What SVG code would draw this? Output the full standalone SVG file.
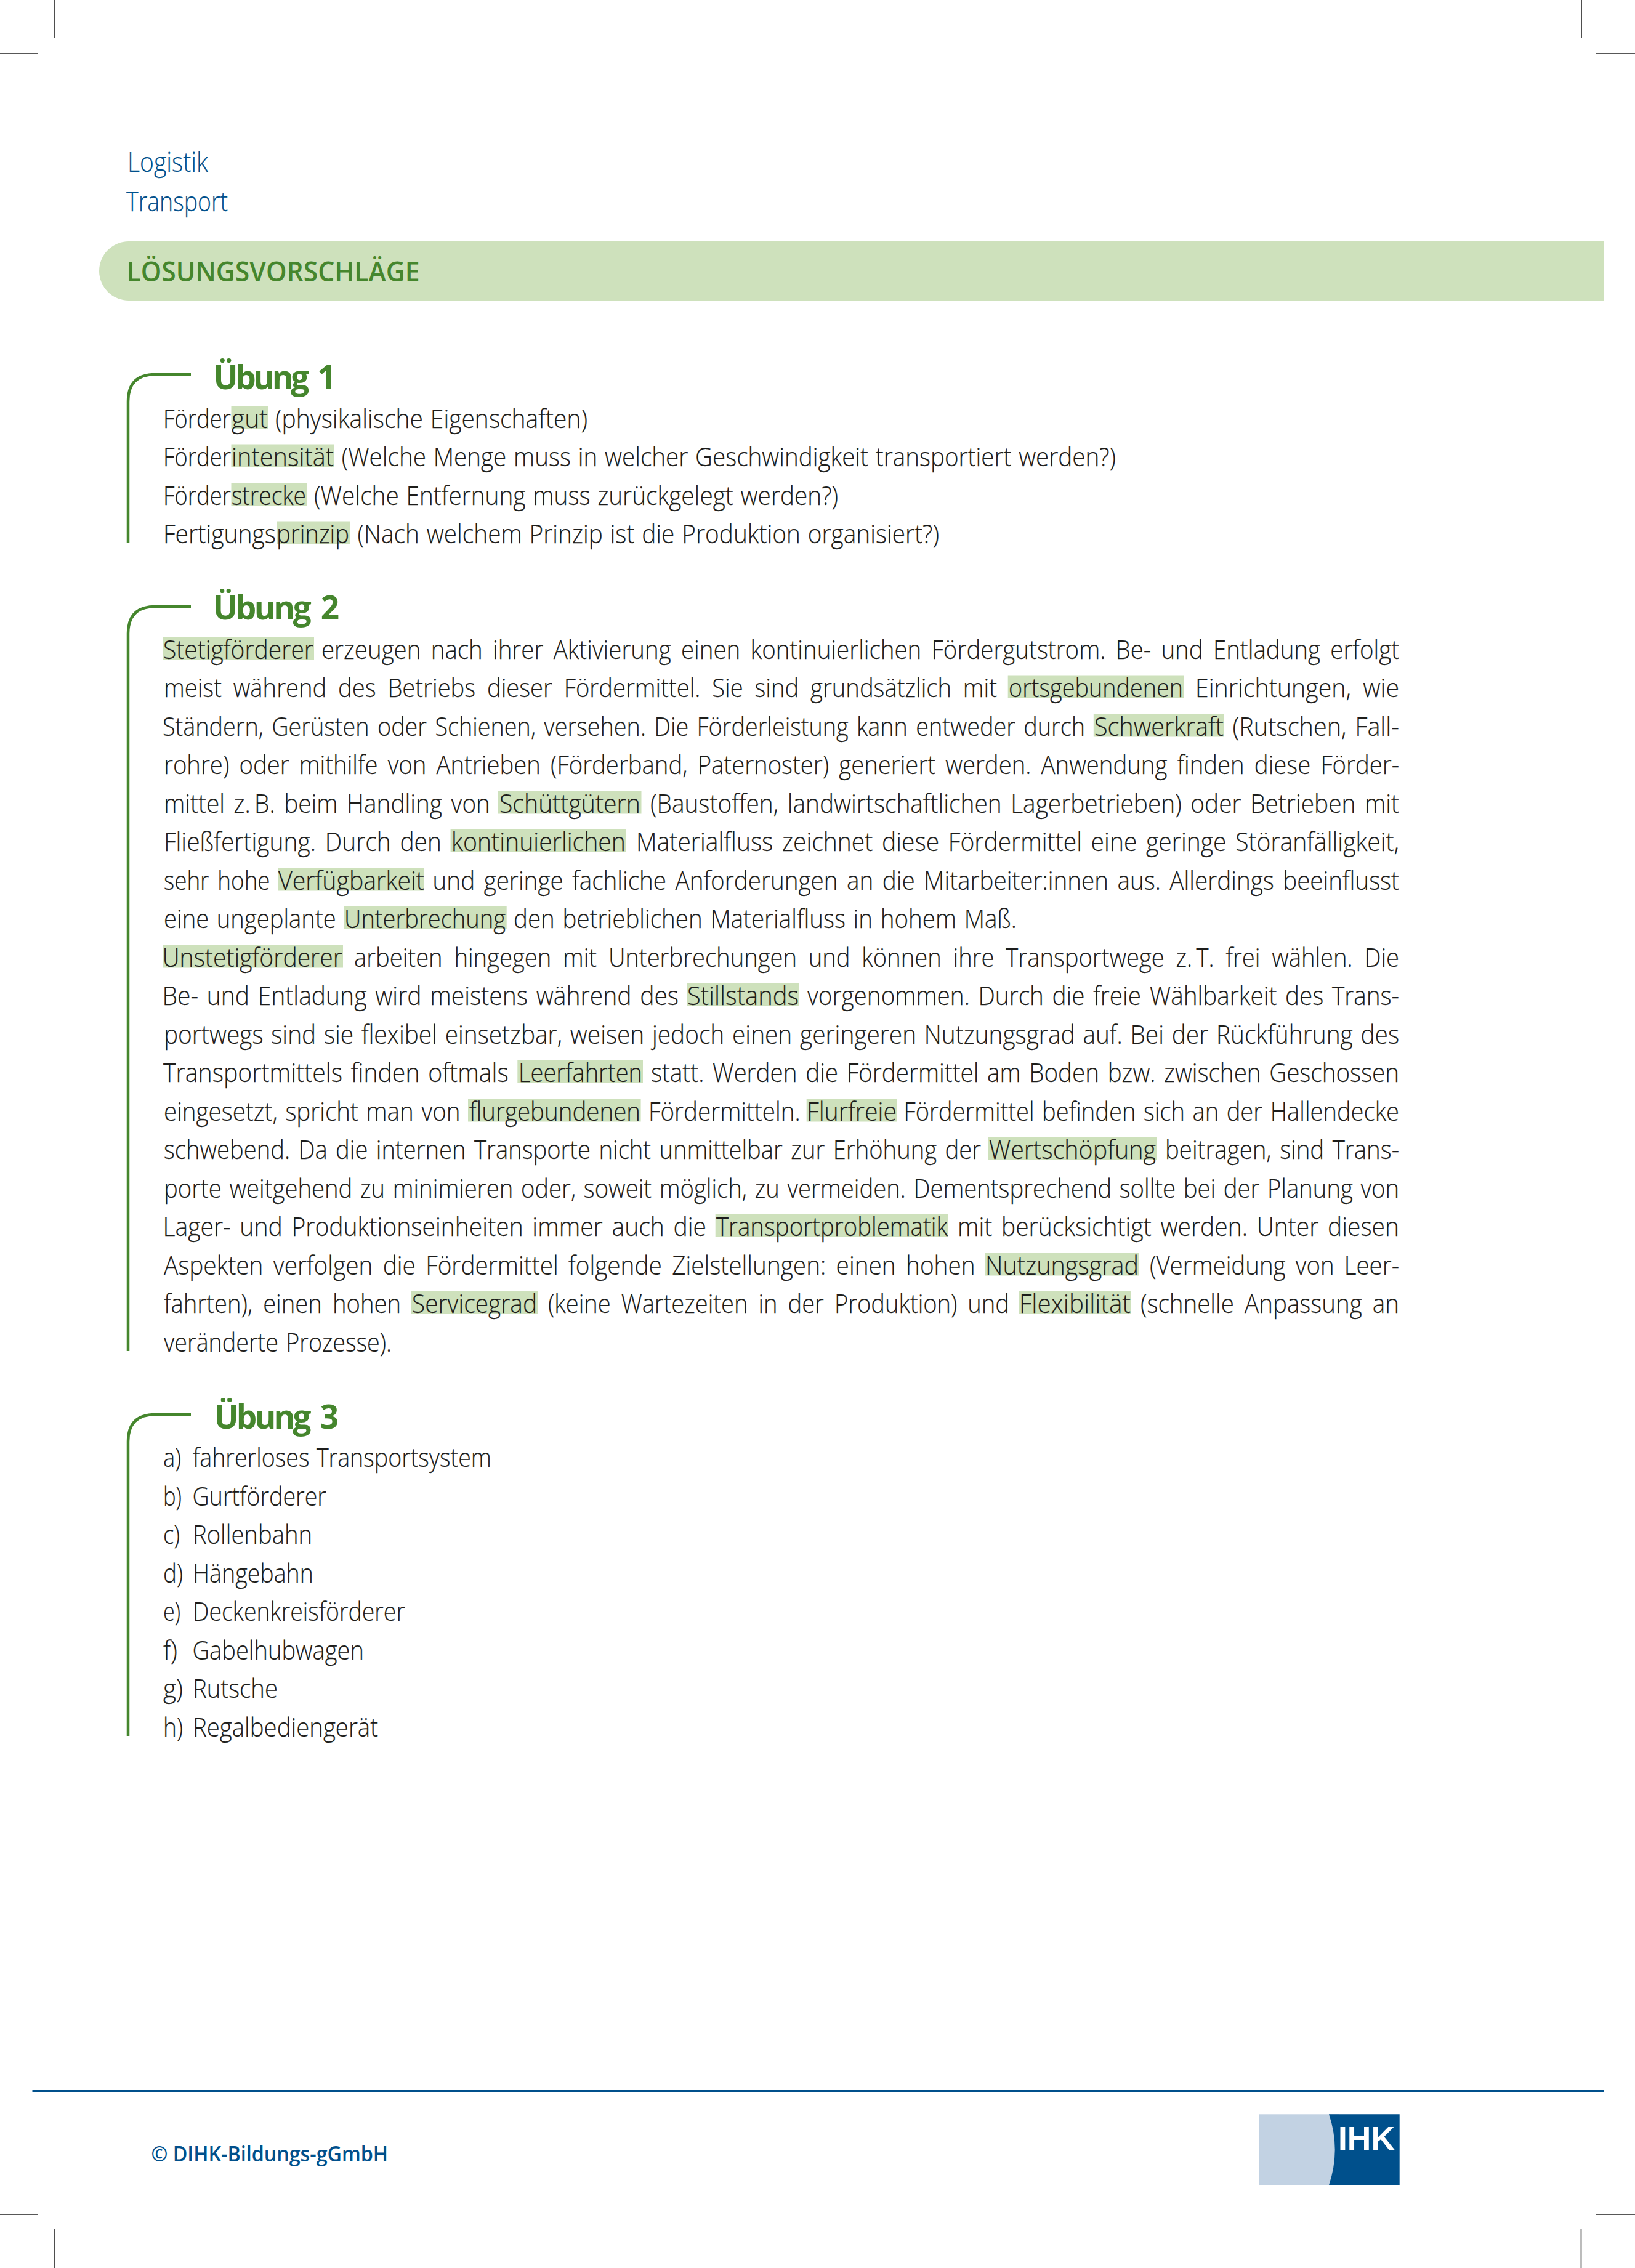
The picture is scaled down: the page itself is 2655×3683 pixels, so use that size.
<svg xmlns="http://www.w3.org/2000/svg" width="2655" height="3683" viewBox="0 0 2655 3683">
<style>
text{font-family:"Open Sans","Liberation Sans",sans-serif}
.t{font-weight:300;font-size:43px;fill:#1d1d1b;stroke:#1d1d1b;stroke-width:.25;transform:translateY(1px)}
.h{fill:#cee1bc}
.head{font-weight:700;font-size:53px;fill:#45862d}
.bl{font-weight:300;font-size:44px;fill:#00508c;stroke:#00508c;stroke-width:.25}
.br{fill:none;stroke:#45862d;stroke-width:4.500}
.cm{stroke:#222;stroke-width:1.600;fill:none}
</style>
<rect width="2655" height="3683" fill="#fff"/>
<g id="cropmarks">
<path class="cm" d="M88 0V62M0 87H62M2568 0V62M2592 87H2655M88 3620V3683M0 3596H62M2567.500 3620V3683M2592 3596H2655"/>
</g>
<g id="header">
<text class="bl" x="207" y="279" textLength="131" lengthAdjust="spacingAndGlyphs">Logistik</text>
<text class="bl" x="205" y="343" textLength="165" lengthAdjust="spacingAndGlyphs">Transport</text>
<path id="title-bar" class="h" d="M209 392H2604V488H209A48 48 0 0 1 209 392Z"/>
<text x="205.500" y="456.500" font-size="46" font-weight="600" fill="#45862d" textLength="476" lengthAdjust="spacingAndGlyphs">LÖSUNGSVORSCHLÄGE</text>
</g>
<g id="highlights">
<rect class="h" x="375.500" y="659" width="60.500" height="37.500"/>
<rect class="h" x="375.500" y="721.500" width="167" height="37.500"/>
<rect class="h" x="375.500" y="784" width="122.500" height="37.500"/>
<rect class="h" x="449" y="846.500" width="119" height="37.500"/>
<rect class="h" x="264" y="1034" width="246" height="37.500"/>
<rect class="h" x="1636.700" y="1096.500" width="285.700" height="37.500"/>
<rect class="h" x="1775.800" y="1159" width="212.200" height="37.500"/>
<rect class="h" x="809" y="1284" width="232.500" height="37.500"/>
<rect class="h" x="731.600" y="1346.500" width="285.400" height="37.500"/>
<rect class="h" x="451.600" y="1409" width="237.400" height="37.500"/>
<rect class="h" x="558" y="1471.500" width="264.700" height="37.500"/>
<rect class="h" x="264" y="1534" width="293" height="37.500"/>
<rect class="h" x="1115" y="1596.500" width="183" height="37.500"/>
<rect class="h" x="840.300" y="1721.500" width="203.700" height="37.500"/>
<rect class="h" x="760" y="1784" width="280.600" height="37.500"/>
<rect class="h" x="1309.700" y="1784" width="147.300" height="37.500"/>
<rect class="h" x="1604.800" y="1846.500" width="273.200" height="37.500"/>
<rect class="h" x="1161.700" y="1971.500" width="378.100" height="37.500"/>
<rect class="h" x="1599.500" y="2034" width="250.500" height="37.500"/>
<rect class="h" x="667.500" y="2096.500" width="205.500" height="37.500"/>
<rect class="h" x="1655" y="2096.500" width="182" height="37.500"/>
</g>
<g id="uebung-1">
<path class="br" d="M310 608H252Q208 608 208 652V881.500"/>
<text class="head" x="346.500" y="632" textLength="199" lengthAdjust="spacing" word-spacing="8">Übung 1</text>
<text class="t" x="265" y="693.500" textLength="110" lengthAdjust="spacingAndGlyphs">Förder</text>
<text class="t" x="376" y="693.500" textLength="59" lengthAdjust="spacingAndGlyphs">gut</text>
<text class="t" x="447" y="693.500" textLength="507" lengthAdjust="spacingAndGlyphs" word-spacing="2">(physikalische Eigenschaften)</text>
<text class="t" x="265" y="756" textLength="110" lengthAdjust="spacingAndGlyphs">Förder</text>
<text class="t" x="376" y="756" textLength="166" lengthAdjust="spacingAndGlyphs">intensität</text>
<text class="t" x="554.700" y="756" textLength="1257.300" lengthAdjust="spacingAndGlyphs" word-spacing="2">(Welche Menge muss in welcher Geschwindigkeit transportiert werden?)</text>
<text class="t" x="265" y="818.500" textLength="110" lengthAdjust="spacingAndGlyphs">Förder</text>
<text class="t" x="376" y="818.500" textLength="121" lengthAdjust="spacingAndGlyphs">strecke</text>
<text class="t" x="510" y="818.500" textLength="851" lengthAdjust="spacingAndGlyphs" word-spacing="2">(Welche Entfernung muss zurückgelegt werden?)</text>
<text class="t" x="265" y="881" textLength="183" lengthAdjust="spacingAndGlyphs">Fertigungs</text>
<text class="t" x="449" y="881" textLength="118" lengthAdjust="spacingAndGlyphs">prinzip</text>
<text class="t" x="580.500" y="881" textLength="944.500" lengthAdjust="spacingAndGlyphs" word-spacing="2">(Nach welchem Prinzip ist die Produktion organisiert?)</text>
</g>
<g id="uebung-2">
<path class="br" d="M310 985H252Q208 985 208 1029V2194"/>
<text class="head" x="346" y="1006" textLength="205" lengthAdjust="spacing" word-spacing="8">Übung 2</text>
<text class="t" x="265" y="1068.500" textLength="244" lengthAdjust="spacingAndGlyphs">Stetigförderer</text>
<text class="t" x="522" y="1068.500" textLength="1750" lengthAdjust="spacingAndGlyphs" word-spacing="7">erzeugen nach ihrer Aktivierung einen kontinuierlichen Fördergutstrom. Be- und Entladung erfolgt</text>
<text class="t" x="266" y="1131" textLength="1353" lengthAdjust="spacingAndGlyphs" word-spacing="10">meist während des Betriebs dieser Fördermittel. Sie sind grundsätzlich mit</text>
<text class="t" x="1638" y="1131" textLength="283" lengthAdjust="spacingAndGlyphs">ortsgebundenen</text>
<text class="t" x="1941" y="1131" textLength="331" lengthAdjust="spacingAndGlyphs" word-spacing="10">Einrichtungen, wie</text>
<text class="t" x="264" y="1193.500" textLength="1498" lengthAdjust="spacingAndGlyphs" word-spacing="4">Ständern, Gerüsten oder Schienen, versehen. Die Förderleistung kann entweder durch</text>
<text class="t" x="1777" y="1193.500" textLength="210" lengthAdjust="spacingAndGlyphs">Schwerkraft</text>
<text class="t" x="2001.500" y="1193.500" textLength="270.500" lengthAdjust="spacingAndGlyphs" word-spacing="4">(Rutschen, Fall-</text>
<text class="t" x="266" y="1256" textLength="2006" lengthAdjust="spacingAndGlyphs" word-spacing="7">rohre) oder mithilfe von Antrieben (Förderband, Paternoster) generiert werden. Anwendung finden diese Förder-</text>
<text class="t" x="266" y="1318.500" textLength="530" lengthAdjust="spacingAndGlyphs" word-spacing="5">mittel z.&#8201;B. beim Handling von</text>
<text class="t" x="811" y="1318.500" textLength="229" lengthAdjust="spacingAndGlyphs">Schüttgütern</text>
<text class="t" x="1056" y="1318.500" textLength="1216" lengthAdjust="spacingAndGlyphs" word-spacing="5">(Baustoffen, landwirtschaftlichen Lagerbetrieben) oder Betrieben mit</text>
<text class="t" x="266" y="1381" textLength="451" lengthAdjust="spacingAndGlyphs" word-spacing="5">Fließfertigung. Durch den</text>
<text class="t" x="733" y="1381" textLength="283" lengthAdjust="spacingAndGlyphs">kontinuierlichen</text>
<text class="t" x="1033" y="1381" textLength="1239" lengthAdjust="spacingAndGlyphs" word-spacing="5">Materialfluss zeichnet diese Fördermittel eine geringe Störanfälligkeit,</text>
<text class="t" x="266" y="1443.500" textLength="172.600" lengthAdjust="spacingAndGlyphs" word-spacing="5">sehr hohe</text>
<text class="t" x="452" y="1443.500" textLength="237" lengthAdjust="spacingAndGlyphs">Verfügbarkeit</text>
<text class="t" x="702.600" y="1443.500" textLength="1569.400" lengthAdjust="spacingAndGlyphs" word-spacing="5">und geringe fachliche Anforderungen an die Mitarbeiter:innen aus. Allerdings beeinflusst</text>
<text class="t" x="266" y="1506" textLength="279.700" lengthAdjust="spacingAndGlyphs" word-spacing="3">eine ungeplante</text>
<text class="t" x="559" y="1506" textLength="262" lengthAdjust="spacingAndGlyphs">Unterbrechung</text>
<text class="t" x="834" y="1506" textLength="817" lengthAdjust="spacingAndGlyphs" word-spacing="3">den betrieblichen Materialfluss in hohem Maß.</text>
<text class="t" x="263.500" y="1568.500" textLength="292.500" lengthAdjust="spacingAndGlyphs">Unstetigförderer</text>
<text class="t" x="575" y="1568.500" textLength="1697" lengthAdjust="spacingAndGlyphs" word-spacing="10">arbeiten hingegen mit Unterbrechungen und können ihre Transportwege z.&#8201;T. frei wählen. Die</text>
<text class="t" x="263.500" y="1631" textLength="838.500" lengthAdjust="spacingAndGlyphs" word-spacing="4">Be- und Entladung wird meistens während des</text>
<text class="t" x="1116" y="1631" textLength="181" lengthAdjust="spacingAndGlyphs">Stillstands</text>
<text class="t" x="1311" y="1631" textLength="961" lengthAdjust="spacingAndGlyphs" word-spacing="4">vorgenommen. Durch die freie Wählbarkeit des Trans-</text>
<text class="t" x="266" y="1693.500" textLength="2006" lengthAdjust="spacingAndGlyphs" word-spacing="3">portwegs sind sie flexibel einsetzbar, weisen jedoch einen geringeren Nutzungsgrad auf. Bei der Rückführung des</text>
<text class="t" x="265" y="1756" textLength="560.700" lengthAdjust="spacingAndGlyphs" word-spacing="4">Transportmittels finden oftmals</text>
<text class="t" x="842" y="1756" textLength="201" lengthAdjust="spacingAndGlyphs">Leerfahrten</text>
<text class="t" x="1057" y="1756" textLength="1215" lengthAdjust="spacingAndGlyphs" word-spacing="4">statt. Werden die Fördermittel am Boden bzw. zwischen Geschossen</text>
<text class="t" x="266" y="1818.500" textLength="481.500" lengthAdjust="spacingAndGlyphs" word-spacing="3">eingesetzt, spricht man von</text>
<text class="t" x="762" y="1818.500" textLength="278" lengthAdjust="spacingAndGlyphs">flurgebundenen</text>
<text class="t" x="1053" y="1818.500" textLength="246.700" lengthAdjust="spacingAndGlyphs">Fördermitteln.</text>
<text class="t" x="1310" y="1818.500" textLength="146" lengthAdjust="spacingAndGlyphs">Flurfreie</text>
<text class="t" x="1467.500" y="1818.500" textLength="804.500" lengthAdjust="spacingAndGlyphs" word-spacing="3">Fördermittel befinden sich an der Hallendecke</text>
<text class="t" x="266" y="1881" textLength="1327" lengthAdjust="spacingAndGlyphs" word-spacing="4">schwebend. Da die internen Transporte nicht unmittelbar zur Erhöhung der</text>
<text class="t" x="1606" y="1881" textLength="271" lengthAdjust="spacingAndGlyphs">Wertschöpfung</text>
<text class="t" x="1892" y="1881" textLength="380" lengthAdjust="spacingAndGlyphs" word-spacing="4">beitragen, sind Trans-</text>
<text class="t" x="266" y="1943.500" textLength="2006" lengthAdjust="spacingAndGlyphs" word-spacing="3">porte weitgehend zu minimieren oder, soweit möglich, zu vermeiden. Dementsprechend sollte bei der Planung von</text>
<text class="t" x="264.500" y="2006" textLength="882.500" lengthAdjust="spacingAndGlyphs" word-spacing="5">Lager- und Produktionseinheiten immer auch die</text>
<text class="t" x="1163" y="2006" textLength="376" lengthAdjust="spacingAndGlyphs">Transportproblematik</text>
<text class="t" x="1555" y="2006" textLength="717" lengthAdjust="spacingAndGlyphs" word-spacing="5">mit berücksichtigt werden. Unter diesen</text>
<text class="t" x="266" y="2068.500" textLength="1317.600" lengthAdjust="spacingAndGlyphs" word-spacing="7">Aspekten verfolgen die Fördermittel folgende Zielstellungen: einen hohen</text>
<text class="t" x="1600" y="2068.500" textLength="249" lengthAdjust="spacingAndGlyphs">Nutzungsgrad</text>
<text class="t" x="1867" y="2068.500" textLength="405" lengthAdjust="spacingAndGlyphs" word-spacing="7">(Vermeidung von Leer-</text>
<text class="t" x="266" y="2131" textLength="385" lengthAdjust="spacingAndGlyphs" word-spacing="8">fahrten), einen hohen</text>
<text class="t" x="669" y="2131" textLength="203" lengthAdjust="spacingAndGlyphs">Servicegrad</text>
<text class="t" x="890" y="2131" textLength="749" lengthAdjust="spacingAndGlyphs" word-spacing="8">(keine Wartezeiten in der Produktion) und</text>
<text class="t" x="1655" y="2131" textLength="181" lengthAdjust="spacingAndGlyphs">Flexibilität</text>
<text class="t" x="1852" y="2131" textLength="420" lengthAdjust="spacingAndGlyphs" word-spacing="8">(schnelle Anpassung an</text>
<text class="t" x="266" y="2193.500" textLength="370" lengthAdjust="spacingAndGlyphs" word-spacing="3">veränderte Prozesse).</text>
</g>
<g id="uebung-3">
<path class="br" d="M310 2297H252Q208 2297 208 2341V2819"/>
<text class="head" x="347.600" y="2320" textLength="202.400" lengthAdjust="spacing" word-spacing="8">Übung 3</text>
<text class="t" x="265" y="2381" textLength="29" lengthAdjust="spacingAndGlyphs">a)</text>
<text class="t" x="313" y="2381" textLength="485" lengthAdjust="spacingAndGlyphs" word-spacing="2">fahrerloses Transportsystem</text>
<text class="t" x="265" y="2443.500" textLength="30" lengthAdjust="spacingAndGlyphs">b)</text>
<text class="t" x="312.500" y="2443.500" textLength="217.500" lengthAdjust="spacingAndGlyphs">Gurtförderer</text>
<text class="t" x="265" y="2506" textLength="27" lengthAdjust="spacingAndGlyphs">c)</text>
<text class="t" x="313" y="2506" textLength="194" lengthAdjust="spacingAndGlyphs">Rollenbahn</text>
<text class="t" x="265" y="2568.500" textLength="32" lengthAdjust="spacingAndGlyphs">d)</text>
<text class="t" x="313" y="2568.500" textLength="196" lengthAdjust="spacingAndGlyphs">Hängebahn</text>
<text class="t" x="265" y="2631" textLength="28" lengthAdjust="spacingAndGlyphs">e)</text>
<text class="t" x="313" y="2631" textLength="345" lengthAdjust="spacingAndGlyphs">Deckenkreisförderer</text>
<text class="t" x="265" y="2693.500" textLength="23" lengthAdjust="spacingAndGlyphs">f)</text>
<text class="t" x="312.500" y="2693.500" textLength="278.500" lengthAdjust="spacingAndGlyphs">Gabelhubwagen</text>
<text class="t" x="265" y="2756" textLength="32" lengthAdjust="spacingAndGlyphs">g)</text>
<text class="t" x="313" y="2756" textLength="138" lengthAdjust="spacingAndGlyphs">Rutsche</text>
<text class="t" x="265" y="2818.500" textLength="32" lengthAdjust="spacingAndGlyphs">h)</text>
<text class="t" x="313" y="2818.500" textLength="301" lengthAdjust="spacingAndGlyphs">Regalbediengerät</text>
</g>
<g id="footer">
<rect x="52.500" y="3394" width="2551.500" height="3" fill="#00508c"/>
<text x="245.500" y="3510" font-size="34" font-weight="600" fill="#00508c" textLength="384.500" lengthAdjust="spacingAndGlyphs">© DIHK-Bildungs-gGmbH</text>
<g id="logo">
<rect x="2044" y="3433.300" width="130" height="115" fill="#c2d2e3"/>
<path d="M2158 3433.300H2272.700V3548.300H2158Q2177.400 3490.800 2158 3433.300Z" fill="#00508c"/>
<text x="2173" y="3490.700" font-size="53" font-weight="700" fill="#fff" textLength="92" lengthAdjust="spacingAndGlyphs" style="font-family:'Liberation Sans',sans-serif">IHK</text>
</g>
</g>
</svg>
